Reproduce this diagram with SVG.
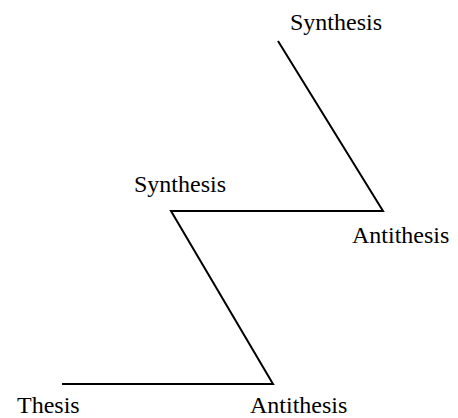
<svg xmlns="http://www.w3.org/2000/svg" width="458" height="418" viewBox="0 0 458 418">
<style>
.l{stroke:#000;stroke-width:2;fill:none;stroke-linecap:butt;stroke-linejoin:miter}
text{font-family:"Liberation Serif","Times New Roman",serif;font-size:24px;fill:#000}
</style>
<rect width="458" height="418" fill="#fff"/>
<g id="connectors">
<polyline class="l" points="62,384 273,384 171,211 383,211 278,41"/>
</g>
<g id="thesis"><text x="17" y="413">Thesis</text></g>
<g id="antithesis1"><text x="250" y="413">Antithesis</text></g>
<g id="synthesis1"><text x="134" y="192">Synthesis</text></g>
<g id="antithesis2"><text x="352" y="243">Antithesis</text></g>
<g id="synthesis2"><text x="290" y="30">Synthesis</text></g>
</svg>
